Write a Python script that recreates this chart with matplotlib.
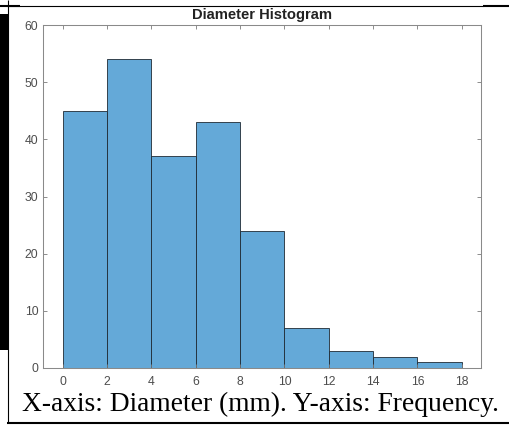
import matplotlib
matplotlib.use("Agg")
import matplotlib.pyplot as plt
from matplotlib.lines import Line2D
from matplotlib.patches import Rectangle

# Histogram data: bin edges (mm) and counts per bin
bin_edges = [0, 2, 4, 6, 8, 10, 12, 14, 16, 18]
counts = [45, 54, 37, 43, 24, 7, 3, 2, 1]
x_ticks = [0, 2, 4, 6, 8, 10, 12, 14, 16, 18]
y_ticks = [0, 10, 20, 30, 40, 50, 60]
title = "Diameter Histogram"
caption = "X-axis: Diameter (mm). Y-axis: Frequency."

W, H = 509, 426
fig = plt.figure(figsize=(W / 100, H / 100), dpi=100)
fig.patch.set_facecolor("white")


def fx(px):
    return px / W


def fy(py):
    return 1 - py / H


# Axes box in pixel coordinates
ax_l, ax_r, ax_t, ax_b = 43.3, 481.3, 25.0, 368.0
ax = fig.add_axes([fx(ax_l), fy(ax_b), (ax_r - ax_l) / W, (ax_b - ax_t) / H])

widths = [b - a for a, b in zip(bin_edges[:-1], bin_edges[1:])]
ax.bar(bin_edges[:-1], counts, width=widths, align="edge",
       color="#64a9d8", edgecolor="#1f2a33", linewidth=0.6)

ax.set_xlim(-0.88, 18.88)
ax.set_ylim(0, 60)
ax.set_xticks(x_ticks)
ax.set_yticks(y_ticks)

tick_font = {"family": "Liberation Sans", "size": 8.8}
ax.set_xticklabels([str(v) for v in x_ticks], fontdict=tick_font)
ax.set_yticklabels([str(v) for v in y_ticks], fontdict=tick_font)
ax.tick_params(axis="both", direction="in", length=3, width=0.6,
               color="#7a7a7a", labelcolor="#4d4d4d",
               top=True, right=True)
ax.tick_params(axis="x", pad=6)
ax.tick_params(axis="y", pad=3.5)
for s in ax.spines.values():
    s.set_color("#8a8a8a")
    s.set_linewidth(0.75)

ax.set_title(title, fontfamily="Liberation Sans", fontweight="bold",
             fontsize=10.6, color="#222222", pad=4)

# Caption below the chart
fig.text(fx(22), fy(411), caption, fontfamily="Liberation Serif",
         fontsize=19.8, color="black", ha="left", va="baseline")

# Surrounding table rules
def hline(y, x0, x1, lw):
    fig.add_artist(Line2D([fx(x0), fx(x1)], [fy(y), fy(y)], color="black",
                          linewidth=lw, solid_capstyle="butt"))


def vline(x, y0, y1, lw):
    fig.add_artist(Line2D([fx(x), fx(x)], [fy(y0), fy(y1)], color="black",
                          linewidth=lw, solid_capstyle="butt"))


hline(5.5, 7, 483, 0.8)
hline(5.5, 483, W, 1.5)
hline(5.8, 0, 20, 1.5)
vline(7.5, 0, 423, 0.8)
hline(422.5, 7, W, 1.5)
fig.add_artist(Rectangle((0, fy(350)), fx(7.5), fy(14) - fy(350),
                         transform=fig.transFigure, facecolor="black",
                         edgecolor="none"))

fig.savefig("out.png", dpi=100, facecolor="white")
